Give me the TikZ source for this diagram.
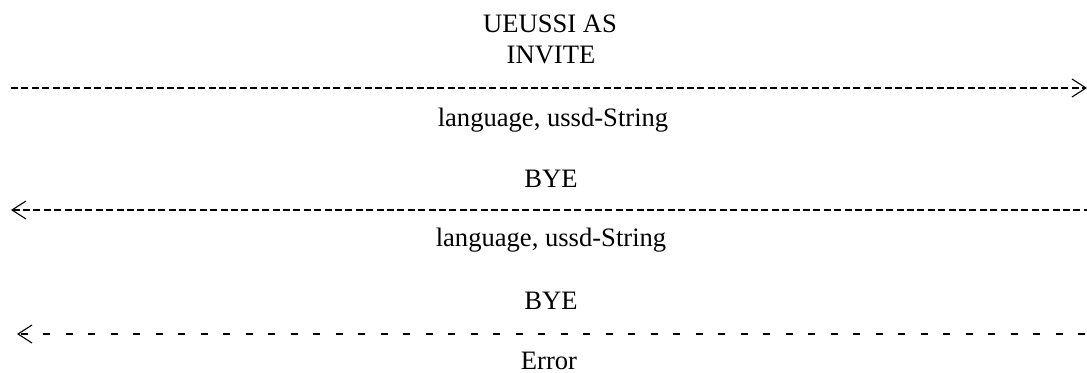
\documentclass[tikz,border=0pt]{standalone}
\usepackage{fontspec}
\setmainfont{Liberation Serif}
\usetikzlibrary{arrows.meta}

\tikzset{
    msgtext/.style={anchor=base, inner sep=0pt, font=\fontsize{13.3}{16}\selectfont},
    msgline/.style={line width=0.85pt, dash pattern=on 3.5pt off 1.7pt},
    errline/.style={line width=0.85pt, dash pattern=on 3.5pt off 7.75pt, dash phase=-1pt},
    barb/.tip={Straight Barb[length=7pt, width=9pt, line width=0.55pt]}
}

\begin{document}
\begin{tikzpicture}[x=0.5pt, y=-0.5pt]
    \useasboundingbox (0, 0) rectangle (1087, 373);

    % header
    \node[msgtext] (head1) at (550, 33) {UEUSSI AS};
    \node[msgtext] (head2) at (551, 64) {INVITE};

    % INVITE
    \coordinate (inviteL) at (11, 88);
    \coordinate (inviteR) at (1087, 88);
    \draw[msgline, -barb] (inviteL) -- (inviteR);
    \node[msgtext] (inviteArgs) at (553, 127) {language, ussd-String};

    % BYE
    \node[msgtext] (bye1) at (551, 188) {BYE};
    \coordinate (byeL) at (11, 210);
    \coordinate (byeR) at (1087, 210);
    \draw[msgline, barb-] (byeL) -- (byeR);
    \node[msgtext] (byeArgs) at (551, 247) {language, ussd-String};

    % BYE (error)
    \node[msgtext] (bye2) at (551, 310) {BYE};
    \coordinate (errL) at (17, 334);
    \coordinate (errR) at (1087, 334);
    \draw[errline, barb-] (errL) -- (errR);
    \node[msgtext] (errText) at (549, 370) {Error};
\end{tikzpicture}
\end{document}
